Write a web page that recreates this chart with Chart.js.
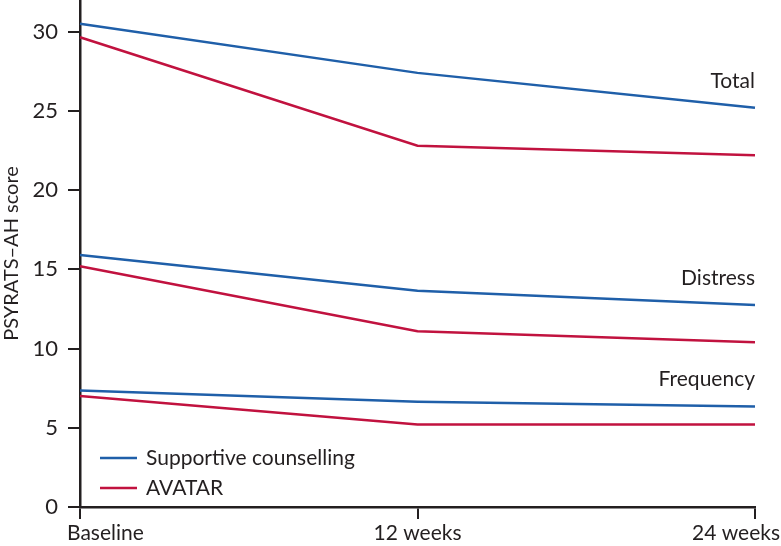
<!DOCTYPE html>
<html>
<head>
<meta charset="utf-8">
<script src="https://cdn.jsdelivr.net/npm/chart.js@4/dist/chart.umd.min.js"></script>
<style>
  html, body { margin: 0; padding: 0; background: #fff; }
  #wrap { width: 781px; height: 546px; }
</style>
</head>
<body>
<div id="wrap"><canvas id="psyChart"></canvas></div>
<script>
// Time points
const timepoints = ["Baseline", "12 weeks", "24 weeks"];

// PSYRATS-AH scores
const totalSupportive = [30.5, 27.4, 25.2];
const totalAvatar = [29.65, 22.8, 22.2];
const distressSupportive = [15.9, 13.65, 12.75];
const distressAvatar = [15.2, 11.1, 10.4];
const frequencySupportive = [7.35, 6.65, 6.35];
const frequencyAvatar = [7.0, 5.2, 5.2];

const groupNames = ["Total", "Distress", "Frequency"];
// \u200C keeps the font from joining "ti" into a ligature
const armNames = ["Suppor\u200Ctive counselling", "AVATAR"];

const BLUE = "#1f5fa9";
const RED = "#c1123f";
const INK = "#231f20";
const FONT = "Lato, 'Open Sans', sans-serif";

function line(data, color) {
  return {
    data: data,
    borderColor: color,
    backgroundColor: color,
    borderWidth: 2.5,
    pointRadius: 0,
    fill: false,
    tension: 0,
  };
}

// nudge the first / last x labels outward, like the original figure
const edgeLabels = {
  id: "edgeLabels",
  beforeDraw(chart) {
    const items = chart.scales.x.getLabelItems();
    if (!items.length || items.nudged) return;
    items[0].options.translation[0] -= 13;
    items[items.length - 1].options.translation[0] += 25;
    items.nudged = true;
  },
};

// group labels ("Total" etc.) + the two-line legend in the lower left
const labelPlugin = {
  id: "groupLabels",
  afterDatasetsDraw(chart) {
    const ctx = chart.ctx;
    const y = chart.scales.y;
    const area = chart.chartArea;
    const blueSeries = [totalSupportive, distressSupportive, frequencySupportive];

    ctx.save();
    ctx.font = "21px " + FONT;
    ctx.fillStyle = INK;
    ctx.textAlign = "right";
    ctx.textBaseline = "middle";
    groupNames.forEach((name, i) => {
      const last = blueSeries[i][blueSeries[i].length - 1];
      ctx.fillText(name, area.right, y.getPixelForValue(last) - 27);
    });

    // legend
    const colors = [BLUE, RED];
    ctx.textAlign = "left";
    armNames.forEach((name, i) => {
      const ly = area.bottom - 49 + i * 30;
      ctx.strokeStyle = colors[i];
      ctx.lineWidth = 2.5;
      ctx.beginPath();
      ctx.moveTo(area.left + 20, ly);
      ctx.lineTo(area.left + 57, ly);
      ctx.stroke();
      ctx.fillText(name, area.left + 66, ly);
    });
    ctx.restore();
  },
};

const ctx = document.getElementById("psyChart").getContext("2d");
new Chart(ctx, {
  type: "line",
  data: {
    labels: timepoints,
    datasets: [
      line(totalSupportive, BLUE),
      line(totalAvatar, RED),
      line(distressSupportive, BLUE),
      line(distressAvatar, RED),
      line(frequencySupportive, BLUE),
      line(frequencyAvatar, RED),
    ],
  },
  options: {
    responsive: true,
    maintainAspectRatio: false,
    animation: false,
    layout: { padding: { top: 0, right: 26, bottom: 0, left: 0 } },
    plugins: {
      legend: { display: false },
      tooltip: { enabled: false },
    },
    scales: {
      x: {
        offset: false,
        border: { color: INK, width: 2.5 },
        grid: { drawOnChartArea: false, drawTicks: true, tickLength: 12, color: INK, lineWidth: 2 },
        ticks: { color: INK, font: { family: FONT, size: 21 }, padding: 2, align: "inner", maxRotation: 0 },
        afterFit: (scale) => {
          scale.height = 39;
          scale.paddingLeft = 0;
          scale.paddingRight = 0;
        },
      },
      y: {
        min: 0,
        max: 32,
        border: { color: INK, width: 2.5 },
        grid: { drawOnChartArea: false, drawTicks: true, tickLength: 12, color: INK, lineWidth: 2 },
        ticks: { stepSize: 5, color: INK, font: { family: FONT, size: 22 }, padding: 10 },
        afterBuildTicks: (scale) => {
          scale.ticks = scale.ticks.filter((t) => t.value % 5 === 0);
        },
        title: {
          display: true,
          text: "PSYRATS–AH score",
          color: INK,
          font: { family: FONT, size: 20 },
          padding: { top: 0, bottom: 0 },
        },
        afterFit: (scale) => {
          scale.width = 80;
          scale.paddingTop = 0;
          scale.paddingBottom = 0;
        },
      },
    },
  },
  plugins: [edgeLabels, labelPlugin],
});
</script>
</body>
</html>
